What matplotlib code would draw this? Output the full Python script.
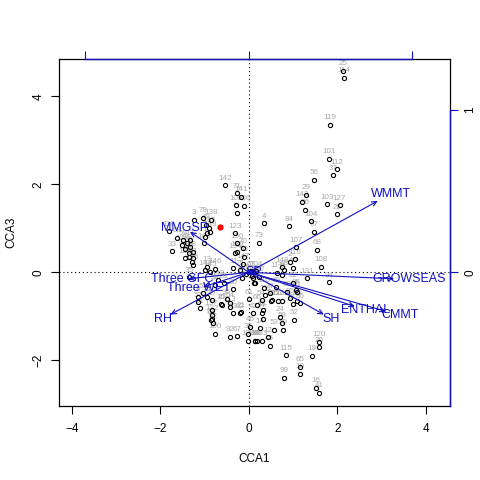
import matplotlib
matplotlib.use('Agg')
import matplotlib.pyplot as plt
from matplotlib.patches import FancyArrowPatch

plt.rcParams['font.family'] = ['Liberation Sans', 'DejaVu Sans']

# ---- site scores (CCA1, CCA3) ----
site_x = [2.14, 2.15, 1.84, 1.81, 2.00, 1.91, 1.48, 1.29, 1.21, 1.27, 1.76, 2.00, 2.05,
          1.40, 1.48, 0.91, 1.07, 1.54, 1.05, 0.93, 1.63, 0.75, 0.80, 1.01, 1.31, 0.63,
          1.81, 1.01, 0.75, 0.12, 0.37, 0.50, 0.75, 1.08, 1.08, 0.99, 1.03, 0.71, 0.75,
          0.77, 0.58, 0.29, 0.26, 0.14, 0.29, 0.44, 0.47, 1.59, 1.59, 1.42, 0.84, 1.16,
          1.16, 0.80, 1.52, 1.59, 0.10, 0.01, -0.35, -0.50, -0.42, -0.20, -0.35, -0.61,
          -0.84, -1.10, -0.84, -0.80, -0.76, -0.42, -0.27, -0.01, -0.01, 0.14, 0.18, 0.03,
          0.33, 0.33, 0.18, 0.29, 0.52, 0.67, 0.48, 0.10, 0.35, 0.93, 1.07, 1.16, -1.14,
          -0.84, -0.86, -0.82, -0.63, -0.42, -0.17, 0.13, 0.62, 0.86, -0.27, -0.17, -0.29,
          -0.27, -0.11, -1.03, -0.86, -1.23, -0.96, -0.89, -0.31, -0.95, -0.87, -0.99,
          -1.01, -1.62, -1.74, -1.48, -1.40, -1.51, -1.33, -1.44, -1.33, -1.34, -1.27,
          -1.36, -1.25, -1.44, -1.29, -1.27, -0.31, -0.27, -0.27, -0.12, -0.95, -0.99,
          -0.87, -0.76, -0.35, -0.20, -0.12, -0.69, -0.57, -0.76, -1.03, -0.95, -1.14,
          -1.34, 0.35, 0.24, -0.53, -1.80, -0.11, 0.05, -0.06, 0.16, 0.08, -0.15, 0.22]
site_y = [4.58, 4.42, 3.35, 2.58, 2.34, 2.21, 2.10, 1.76, 1.60, 1.42, 1.55, 1.32, 1.53,
          1.16, 0.92, 1.05, 0.57, 0.51, 0.30, 0.24, 0.13, 0.11, 0.05, 0.10, -0.14, -0.01,
          -0.23, -0.24, -0.06, -0.24, -0.52, -0.65, -0.65, -0.44, -0.65, -0.72, -1.08,
          -1.01, -1.15, -1.31, -1.31, -0.92, -1.27, -1.55, -1.55, -1.48, -1.67, -1.58,
          -1.70, -1.90, -1.88, -2.15, -2.31, -2.40, -2.62, -2.74, -0.93, -0.61, -0.38,
          -0.61, -0.78, -0.93, -0.93, -0.74, -0.63, -0.82, -1.05, -1.16, -1.40, -1.46,
          -1.45, -1.40, -1.56, -1.56, -1.56, -1.24, -1.05, -0.86, -0.74, -0.63, -0.63,
          -0.65, -0.48, -0.14, -0.35, -0.59, -0.40, -0.70, -0.68, -0.86, -1.08, -0.97,
          -0.72, -0.69, -0.91, -0.25, -0.34, -0.44, 1.80, 1.72, 1.53, 1.34, 1.51, 1.24,
          1.19, 1.19, 1.08, 1.01, 0.89, 0.89, 0.92, 0.81, 0.66, 0.79, 0.48, 0.73, 0.66,
          0.62, 0.73, 0.52, 0.58, 0.43, 0.47, 0.35, 0.32, 0.32, 0.24, 0.17, 0.43, 0.47,
          0.66, 0.55, 0.13, 0.05, 0.01, 0.08, 0.09, 0.05, 0.20, -0.18, -0.25, -0.29,
          -0.48, -0.55, -0.55, -0.11, 1.11, 0.67, 1.98, 0.93, 0.35, 0.03, -0.04, 0.02,
          -0.08, -0.12, -0.10]
site_lab = ["25", "114", "119", "101", "112", "37", "56", "29", "143", "96", "103", "26",
            "127", "104", "97", "84", "107", "68", "116", "2", "108", "148", "48", "40",
            "131", "117", "94", "22", "76", "90", "111", "79", "128", "55", "80", "81",
            "52", "24", "58", "50", "53", "34", "14", "88", "133", "12", "45", "120", "20",
            "19", "115", "65", "10", "99", "16", "41", "42", "61", "60", "36", "113", "62",
            "63", "47", "30", "31", "32", "82", "100", "92", "67", "39", "109", "18", "83",
            "46", "72", "91", "66", "54", "125", "126", "77", "9", "110", "95", "85", "86",
            "57", "137", "93", "132", "15", "64", "21", "102", "69", "89", "71", "141",
            "105", "5", "106", "78", "138", "3", "49", "135", "123", "7", "139", "1", "140",
            "58", "33", "59", "43", "124", "17", "121", "6", "27", "28", "38", "87", "122",
            "98", "136", "134", "130", "150", "70", "13", "144", "145", "146", "11", "75",
            "147", "149", "23", "44", "51", "74", "8", "35", "4", "73", "142", "118", "53",
            "67", "79", "104", "102", "76", "117"]

# highlighted site
red_x = [-0.65]
red_y = [1.02]

# ---- biplot scores of environmental variables (top/right axis units) ----
env_names = ["WMMT", "GROWSEAS", "CMMT", "ENTHAL", "SH", "RH", "MMGSP",
             "Three GFC", "Three WET", "SP"]
env_x = [0.79, 0.89, 0.84, 0.65, 0.46, -0.48, -0.36, -0.37, -0.28, 0.03]
env_y = [0.44, -0.04, -0.24, -0.21, -0.26, -0.26, 0.25, -0.04, -0.09, 0.00]
arrow_mul = 3.69

BLUE = '#1010c0'
GREY = '#a8a8a8'

fig = plt.figure(figsize=(4.8, 4.8), dpi=100)
ax = fig.add_axes([0.1236, 0.154, 0.8133, 0.7223])
xmin, xmax, ymin, ymax = -4.28, 4.54, -3.04, 4.84
ax.set_xlim(xmin, xmax)
ax.set_ylim(ymin, ymax)

ax.axhline(0, color='black', lw=0.8, ls=(0, (1, 2.5)), zorder=1)
ax.axvline(0, color='black', lw=0.8, ls=(0, (1, 2.5)), zorder=1)

ax.plot(site_x, site_y, 'o', mfc='none', mec='black', ms=3.0, mew=0.8, zorder=3)
for x, y, t in zip(site_x, site_y, site_lab):
    ax.annotate(t, (x, y), xytext=(0, 2.5), textcoords='offset points',
                ha='center', va='bottom', fontsize=5.8, color=GREY, zorder=2)
ax.plot(red_x, red_y, 'o', color='red', ms=3.5, zorder=4)

for n, ex, ey in zip(env_names, env_x, env_y):
    x1, y1 = ex * arrow_mul, ey * arrow_mul
    ax.add_patch(FancyArrowPatch((0, 0), (x1, y1),
                                 arrowstyle='->,head_length=3.5,head_width=1.6',
                                 mutation_scale=1, lw=0.8, color=BLUE,
                                 shrinkA=0, shrinkB=0, zorder=5))
    ax.text(1.1 * x1, 1.1 * y1, n, color=BLUE, fontsize=9,
            ha='center', va='center', zorder=6)

ax.set_xticks([-4, -2, 0, 2, 4])
ax.set_yticks([-2, 0, 2, 4])
ax.tick_params(axis='both', direction='out', length=5.5, width=0.8, labelsize=8.5)
ax.tick_params(axis='x', pad=7)
ax.tick_params(axis='y', pad=5)
for lab in ax.get_yticklabels():
    lab.set_rotation(90)
    lab.set_va('center')
for s in ax.spines.values():
    s.set_linewidth(0.9)

# secondary axes for biplot arrows
f = lambda v: v / arrow_mul
finv = lambda v: v * arrow_mul
top = ax.secondary_xaxis('top', functions=(f, finv))
top.set_xticks([-1, 0, 1])
top.tick_params(direction='out', length=5.5, width=0.8, color=BLUE, labeltop=False)
top.spines['top'].set_visible(False)
right = ax.secondary_yaxis('right', functions=(f, finv))
right.set_yticks([0, 1])
right.tick_params(direction='out', length=5.5, width=0.8, color=BLUE,
                  labelsize=8.5, pad=5)
for lab in right.get_yticklabels():
    lab.set_rotation(90)
    lab.set_va('center')
right.spines['right'].set_visible(False)
ax.plot([-arrow_mul, arrow_mul], [ymax, ymax], color=BLUE, lw=1.0,
        clip_on=False, zorder=7)
ax.plot([xmax, xmax], [ymin, arrow_mul], color=BLUE, lw=1.0,
        clip_on=False, zorder=7)

fig.text(254.5 / 480, 1 - 459 / 480, 'CCA1', ha='center', va='center', fontsize=8.5)
fig.text(11 / 480, 1 - 232.6 / 480, 'CCA3', ha='center', va='center',
         fontsize=8.5, rotation=90)

fig.savefig('out.png', dpi=100)
